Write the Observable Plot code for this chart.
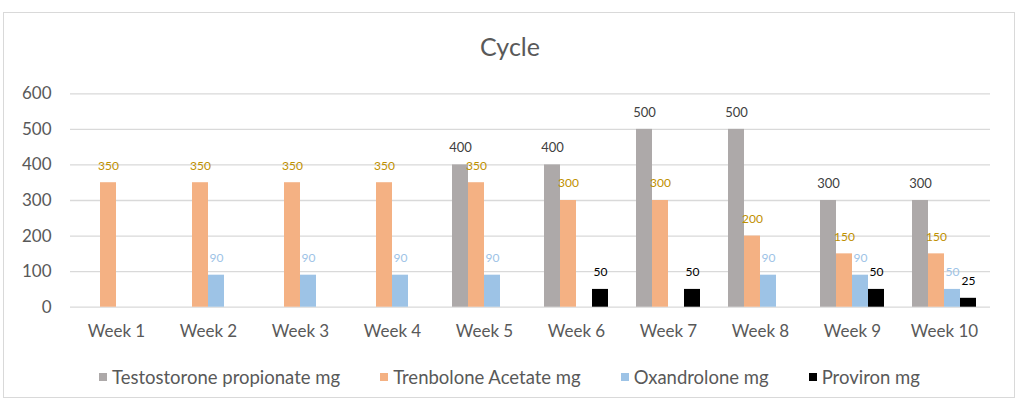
<!DOCTYPE html>
<html>
<head>
<meta charset="utf-8">
<script src="https://cdn.jsdelivr.net/npm/d3@7"></script>
<script src="https://cdn.jsdelivr.net/npm/@observablehq/plot@0.6"></script>
<style>
  html, body { margin: 0; padding: 0; background: #fff; }
  #wrap { position: relative; width: 1024px; height: 418px; font-family: Lato, "Open Sans", sans-serif; overflow: hidden; }
  #frame { position: absolute; left: 3px; top: 12px; width: 1012px; height: 386px; border: 1px solid #D9D9D9; box-sizing: border-box; }
  #title { position: absolute; left: 0; width: 1020px; top: 31px; text-align: center; font-size: 25px; color: #595959; }
  #chart { position: absolute; left: 0; top: 80px; }
  #legend { position: absolute; left: 99px; top: 366px; display: flex; gap: 40px; font-size: 18.5px; color: #595959; }
  .item { display: flex; align-items: center; }
  .sw { width: 8px; height: 8px; margin-right: 5px; }
</style>
</head>
<body>
<div id="wrap">
  <div id="frame"></div>
  <div id="title">Cycle</div>
  <div id="chart"></div>
  <div id="legend"></div>
</div>
<script>
const weeks = ["Week 1","Week 2","Week 3","Week 4","Week 5","Week 6","Week 7","Week 8","Week 9","Week 10"];
const series = ["Testostorone propionate mg","Trenbolone Acetate mg","Oxandrolone mg","Proviron mg"];
const testosterone = [null,null,null,null,400,400,500,500,300,300];
const trenbolone   = [350,350,350,350,350,300,300,200,150,150];
const oxandrolone  = [null,90,90,90,90,null,null,90,90,50];
const proviron     = [null,null,null,null,null,50,50,null,50,25];
const yTicks = [0,100,200,300,400,500,600];

const colors = ["#ADA9A9","#F4B183","#9DC3E6","#000000"];
const labelColors = ["#404040","#BF9000","#9DC3E6","#000000"];
const labelSizes = [13,12,12,12];

const values = [testosterone, trenbolone, oxandrolone, proviron];
const data = weeks.flatMap((w, i) => series.map((s, j) => ({week: w, series: s, value: values[j][i]})))
  .filter(d => d.value != null);

const labelMarks = series.map((s, j) => Plot.text(data.filter(d => d.series === s), {
  fx: "week", x: "series", y: "value", text: d => String(d.value),
  dy: -17, fill: labelColors[j], fontSize: labelSizes[j], textAnchor: "middle", lineAnchor: "middle"
}));

const chart = Plot.plot({
  width: 1024,
  height: 260,
  marginTop: 13.3,
  marginBottom: 33.3,
  marginLeft: 67,
  marginRight: 32,
  style: {fontFamily: "Lato, 'Open Sans', sans-serif", background: "transparent", overflow: "visible"},
  fx: {domain: weeks, padding: 0, label: null, axis: null},
  x: {domain: series, paddingInner: 0, paddingOuter: 0.72, axis: null},
  y: {domain: [0, 600], axis: null},
  color: {domain: series, range: colors},
  marks: [
    Plot.ruleY(yTicks, {stroke: "#D9D9D9", strokeWidth: 1.3}),
    Plot.axisY({ticks: yTicks, tickSize: 0, tickPadding: 19, fontSize: 17, fill: "#595959", label: null}),
    Plot.axisFx({anchor: "bottom", tickSize: 0, tickPadding: 18, fontSize: 17, fill: "#595959", label: null}),
    Plot.barY(data, {fx: "week", x: "series", y: "value", fill: "series"}),
    ...labelMarks
  ]
});
document.getElementById("chart").appendChild(chart);

const legend = document.getElementById("legend");
series.forEach((s, j) => {
  const item = document.createElement("div");
  item.className = "item";
  const sw = document.createElement("div");
  sw.className = "sw";
  sw.style.background = colors[j];
  const t = document.createElement("span");
  t.textContent = s;
  item.appendChild(sw);
  item.appendChild(t);
  legend.appendChild(item);
});
</script>
</body>
</html>
